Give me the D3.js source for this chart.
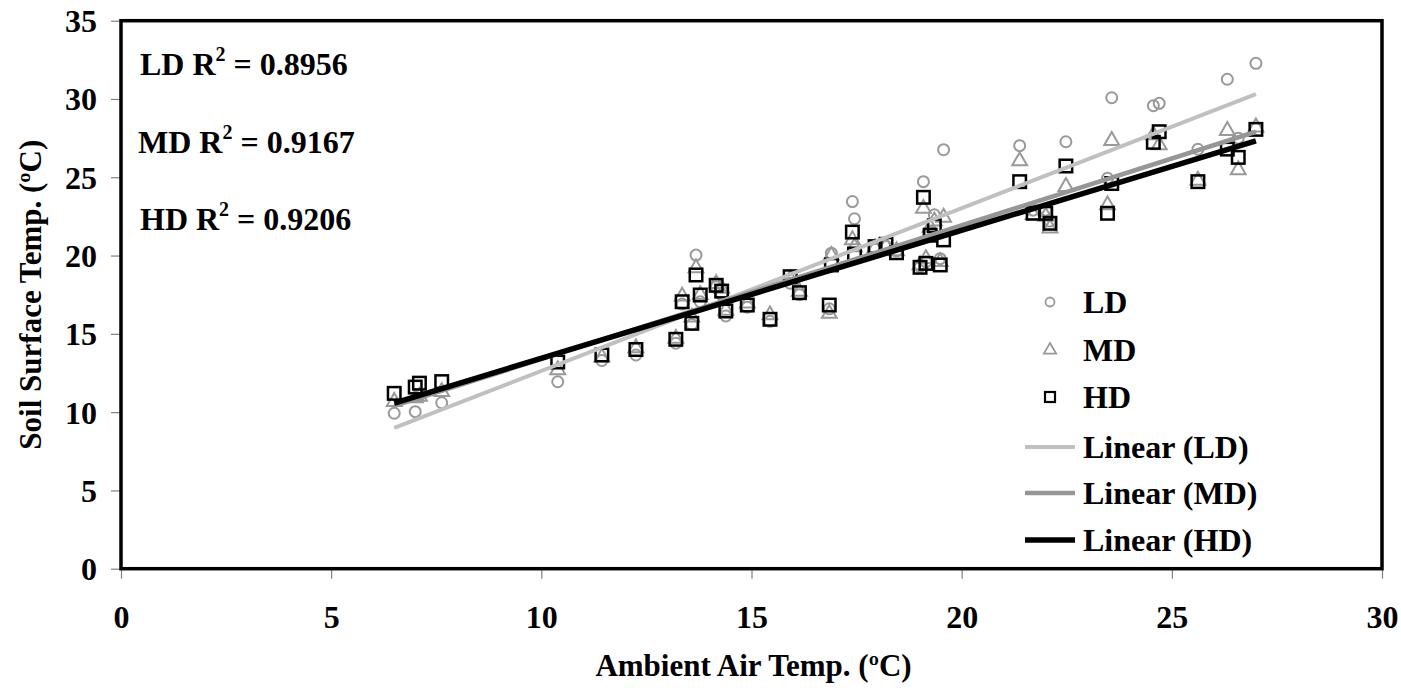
<!DOCTYPE html>
<html><head><meta charset="utf-8">
<script src="https://cdn.jsdelivr.net/npm/d3@7/dist/d3.min.js"></script>
<style>
html,body{margin:0;padding:0;background:#fff;}
text{font-family:"Liberation Serif","Times New Roman",serif;font-weight:bold;fill:#000;}
</style></head>
<body><svg id="c" width="1401" height="695"></svg>
<script>
// Ambient air temperature (x) and soil surface temperature for each density
const airTemp = [6.5, 7.0, 7.1, 7.63, 10.39, 11.44, 12.25, 13.2, 13.35, 13.58, 13.68, 13.78, 14.16, 14.29, 14.39, 14.9, 15.44, 15.92, 16.14, 16.85, 16.9, 17.4, 17.45, 17.94, 18.2, 18.45, 19.01, 19.09, 19.15, 19.25, 19.35, 19.49, 19.57, 21.38, 21.7, 22.0, 22.1, 22.48, 23.47, 23.57, 24.56, 24.7, 25.62, 26.32, 26.58, 27.0];
const LD = [9.93, 10.03, 11.1, 10.6, 11.94, 13.3, 13.65, 14.4, 16.9, 15.6, 20.03, 17.05, 18.0, 17.5, 16.14, 16.7, 15.8, 18.23, 17.5, 16.6, 20.15, 23.45, 22.35, 20.4, 20.6, 20.3, 19.3, 24.72, 19.6, 21.5, 22.6, 19.8, 26.76, 27.02, 22.9, 22.9, 22.2, 27.27, 24.93, 30.08, 29.57, 29.72, 26.79, 31.26, 27.5, 32.28];
const MD = [10.67, 10.9, 11.0, 11.3, 12.7, 13.5, 14.1, 14.7, 17.4, 16.06, 19.2, 17.5, 18.2, 17.9, 16.5, 16.95, 16.2, 18.5, 17.7, 16.3, 20.0, 21.0, 20.55, 20.5, 20.6, 20.3, 19.4, 23.0, 19.8, 21.8, 22.2, 19.6, 22.44, 26.04, 22.6, 22.5, 21.74, 24.4, 23.23, 27.34, 27.7, 27.06, 24.8, 27.98, 25.47, 28.2];
const HD = [11.2, 11.6, 11.85, 11.95, 13.2, 13.65, 14.0, 14.65, 17.05, 15.67, 18.76, 17.48, 18.1, 17.73, 16.46, 16.84, 15.93, 18.65, 17.63, 16.84, 19.4, 21.5, 20.1, 20.57, 20.72, 20.18, 19.25, 23.72, 19.5, 21.3, 21.9, 19.4, 21.0, 24.72, 22.7, 22.7, 22.06, 25.72, 22.7, 24.6, 27.23, 27.91, 24.72, 26.8, 26.27, 28.06];
// Linear trendlines: [slope, intercept]
const trendLD = [1.04, 2.23];
const trendMD = [0.854, 4.85];
const trendHD = [0.817, 5.27];
const trendRange = [6.5, 27.0];
const r2Labels = ["LD", "MD", "HD"];
const r2Values = ["0.8956", "0.9167", "0.9206"];
const xTicks = [0, 5, 10, 15, 20, 25, 30];
const yTicks = [0, 5, 10, 15, 20, 25, 30, 35];
const legendNames = ["LD", "MD", "HD", "Linear (LD)", "Linear (MD)", "Linear (HD)"];

const svg = d3.select("#c");
const L = 121, R = 1382, T = 20.7, B = 568.7;
const x = d3.scaleLinear().domain([0, 30]).range([L, R]);
const y = d3.scaleLinear().domain([0, 35]).range([B, T]);

const grayMk = "#999999";
const FS = 32;

// axes
const xa = svg.append("g").attr("transform", `translate(0,${B})`)
  .call(d3.axisBottom(x).tickValues(xTicks).tickSize(10).tickFormat(d3.format("d")));
xa.select(".domain").remove();
xa.selectAll(".tick line").attr("stroke", "#808080").attr("stroke-width", 1.2);
xa.selectAll(".tick text").attr("y", 59).attr("dy", 0).attr("font-size", FS)
  .attr("font-family", "Liberation Serif").attr("font-weight", "bold").attr("fill", "#000");

const ya = svg.append("g").attr("transform", `translate(${L},0)`)
  .call(d3.axisLeft(y).tickValues(yTicks).tickSize(10).tickFormat(d3.format("d")));
ya.select(".domain").remove();
ya.selectAll(".tick line").attr("stroke", "#808080").attr("stroke-width", 1.2);
ya.selectAll(".tick text").attr("x", -24).attr("dy", "0.34em").attr("font-size", FS)
  .attr("font-family", "Liberation Serif").attr("font-weight", "bold").attr("fill", "#000");

// frame
svg.append("rect").attr("x", L).attr("y", T).attr("width", R - L).attr("height", B - T)
  .attr("fill", "none").attr("stroke", "#000").attr("stroke-width", 3.5);

// markers
const pts = airTemp.map((t, i) => ({t, ld: LD[i], md: MD[i], hd: HD[i]}));
svg.append("g").selectAll("circle").data(pts).join("circle")
  .attr("cx", d => x(d.t)).attr("cy", d => y(d.ld)).attr("r", 5.5)
  .attr("fill", "none").attr("stroke", grayMk).attr("stroke-width", 2);
const tri = d3.symbol().type(d3.symbolTriangle).size(95);
svg.append("g").selectAll("path").data(pts).join("path")
  .attr("d", tri).attr("transform", d => `translate(${x(d.t)},${y(d.md)})`)
  .attr("fill", "none").attr("stroke", grayMk).attr("stroke-width", 2);
const sq = 12.5;
svg.append("g").selectAll("rect").data(pts).join("rect")
  .attr("x", d => x(d.t) - sq / 2).attr("y", d => y(d.hd) - sq / 2)
  .attr("width", sq).attr("height", sq)
  .attr("fill", "none").attr("stroke", "#000").attr("stroke-width", 2.5);

// trendlines
const trends = [
  {c: trendLD, col: "#c0c0c0", w: 4},
  {c: trendMD, col: "#969696", w: 4.5},
  {c: trendHD, col: "#000000", w: 5.5}
];
const line = d3.line().x(d => x(d[0])).y(d => y(d[1]));
trends.forEach(tr => {
  svg.append("path")
    .attr("d", line(trendRange.map(v => [v, tr.c[0] * v + tr.c[1]])))
    .attr("stroke", tr.col).attr("stroke-width", tr.w).attr("fill", "none");
});

// R² labels
const r2y = [75, 153, 230];
const r2x = [140, 138, 140];
r2Labels.forEach((lab, i) => {
  const t = svg.append("text").attr("x", r2x[i]).attr("y", r2y[i]).attr("font-size", FS);
  t.append("tspan").text(lab + " R");
  t.append("tspan").attr("font-size", 20).attr("dy", -14).text("2");
  t.append("tspan").attr("dy", 14).text(" = " + r2Values[i]);
});

// legend
const legY = [302, 350, 397, 447, 493, 540];
const lg = svg.append("g");
lg.append("circle").attr("cx", 1050).attr("cy", legY[0]).attr("r", 4.5)
  .attr("fill", "none").attr("stroke", grayMk).attr("stroke-width", 1.8);
lg.append("path").attr("d", d3.symbol().type(d3.symbolTriangle).size(65)())
  .attr("transform", `translate(1050,${legY[1]})`)
  .attr("fill", "none").attr("stroke", grayMk).attr("stroke-width", 1.8);
lg.append("rect").attr("x", 1045).attr("y", legY[2] - 5).attr("width", 10).attr("height", 10)
  .attr("fill", "none").attr("stroke", "#000").attr("stroke-width", 2.2);
trends.forEach((tr, i) => {
  lg.append("line").attr("x1", 1025).attr("x2", 1075).attr("y1", legY[3 + i]).attr("y2", legY[3 + i])
    .attr("stroke", tr.col).attr("stroke-width", tr.w);
});
legendNames.forEach((n, i) => {
  lg.append("text").attr("x", 1083).attr("y", legY[i]).attr("dy", "0.34em")
    .attr("font-size", FS).text(n);
});

// axis titles
svg.append("text").attr("x", (L + R) / 2 + 2).attr("y", 676).attr("text-anchor", "middle")
  .attr("font-size", 31).text("Ambient Air Temp. (ºC)");
svg.append("text").attr("transform", `translate(41,${(T + B) / 2}) rotate(-90)`)
  .attr("text-anchor", "middle").attr("font-size", 31).text("Soil Surface Temp. (ºC)");
</script></body></html>
